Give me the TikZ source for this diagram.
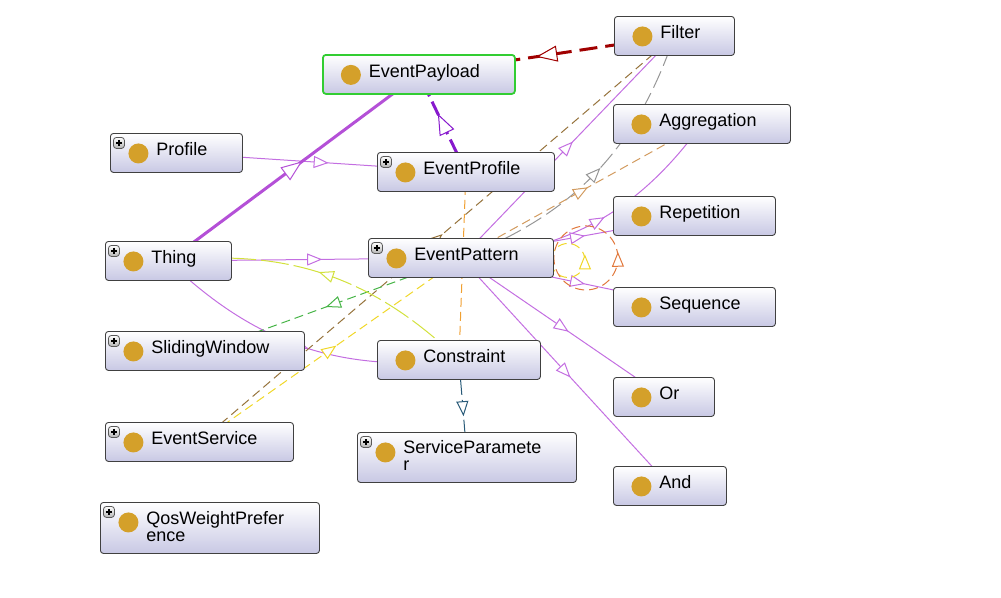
\documentclass[tikz,border=0pt]{standalone}
\usepackage{fontspec}
\setmainfont{Liberation Sans}
\usetikzlibrary{arrows.meta,decorations.markings,backgrounds}

\definecolor{lav}{RGB}{200,200,228}
\definecolor{dotc}{RGB}{212,160,42}
\definecolor{subc}{RGB}{195,110,225}
\definecolor{thickc}{RGB}{180,80,215}
\definecolor{redc}{RGB}{160,0,0}
\definecolor{purpc}{RGB}{135,25,205}
\definecolor{orangec}{RGB}{240,160,50}
\definecolor{brownc}{RGB}{150,115,60}
\definecolor{yellowc}{RGB}{240,215,40}
\definecolor{greenc}{RGB}{70,180,70}
\definecolor{grayc}{RGB}{150,150,150}
\definecolor{tanc}{RGB}{210,155,95}
\definecolor{limec}{RGB}{210,225,60}
\definecolor{tealc}{RGB}{40,90,120}
\definecolor{loopc}{RGB}{225,120,60}
\definecolor{greenbd}{RGB}{50,205,50}

\tikzset{
  tri/.tip={Triangle[length=15pt, width=12pt, fill=white, line width'=1pt]},
  bigtri/.tip={Triangle[length=21pt, width=16pt, fill=white, line width'=1pt]},
  mid/.style={postaction={decorate}, decoration={markings,
    mark=at position 0.5 with {\arrow[xshift=7.5pt]{tri}}}},
  bigmid/.style={postaction={decorate}, decoration={markings,
    mark=at position 0.5 with {\arrow[xshift=10.5pt]{bigtri}}}},
  loopmid/.style={postaction={decorate}, decoration={markings,
    mark=at position 0.001 with {\arrow[xshift=6pt]{tri}}}},
  cls/.style={draw=black!75, line width=0.9pt, rounded corners=3pt,
    top color=white, bottom color=lav, anchor=north west,
    minimum height=39pt, inner xsep=46pt, inner ysep=0pt, align=left,
    text height=12pt, text depth=6pt,
    font=\fontsize{18}{17}\selectfont,
    execute at begin node={\hyphenpenalty=10000\relax},
    path picture={
      \fill[dotc] ([shift={(28pt,-20pt)}]path picture bounding box.north west) circle (10pt);
    }},
  plus/.style={cls,
    path picture={
      \fill[dotc] ([shift={(28pt,-20pt)}]path picture bounding box.north west) circle (10pt);
      \draw[black!65, line width=0.8pt, top color=white, bottom color=black!30]
        ([shift={(3pt,-4pt)}]path picture bounding box.north west) rectangle ++(11pt,-11pt);
      \draw[black, line width=1.3pt]
        ([shift={(5.5pt,-9.5pt)}]path picture bounding box.north west) -- ++(6pt,0pt)
        ([shift={(8.5pt,-6.5pt)}]path picture bounding box.north west) -- ++(0pt,-6pt);
    }},
  sub/.style={color=subc, line width=1pt, mid},
  prop/.style={color=#1, line width=1pt, dash pattern=on 9pt off 5pt, mid},
}

\begin{document}
\begin{tikzpicture}[x=1pt, y=-1pt]
    \useasboundingbox (0, 0) rectangle (1001, 597);

    \node[cls, draw=greenbd, line width=1.8pt, text width=100pt] (payload) at (322, 54) {EventPayload};
    \node[cls, text width=28pt] (filter) at (614, 16) {Filter};
    \node[cls, text width=85pt] (aggregation) at (613, 104) {Aggregation};
    \node[plus, text width=40pt] (profile) at (110, 133) {Profile};
    \node[plus, text width=85pt] (eventprofile) at (377, 152) {EventProfile};
    \node[cls, text width=70pt] (repetition) at (613, 196) {Repetition};
    \node[plus, text width=34pt] (thing) at (105, 241) {Thing};
    \node[plus, text width=93pt] (pattern) at (368, 238) {EventPattern};
    \node[cls, text width=70pt] (sequence) at (613, 287) {Sequence};
    \node[plus, text width=107pt] (sliding) at (105, 331) {SlidingWindow};
    \node[cls, text width=71pt] (constraint) at (377, 340) {Constraint};
    \node[cls, text width=9pt] (or) at (613, 377) {Or};
    \node[plus, text width=96pt] (eventservice) at (105, 422) {EventService};
    \node[plus, text width=127pt, minimum height=50pt, text depth=20pt] (serviceparam) at (357, 432) {ServiceParamete\\r};
    \node[cls, text width=21pt] (and) at (613, 466) {And};
    \node[plus, text width=127pt, minimum height=51pt, text depth=18pt] (qos) at (100, 502) {QosWeightPrefer\\ence};

    \begin{pgfonlayer}{background}
    \draw[sub] (profile.center) -- (eventprofile.center);
    \draw[sub] (thing.center) -- (pattern.center);
    \draw[sub] (pattern.center) -- (filter.center);
    \draw[sub] (pattern.center) to[bend right=25] (aggregation.center);
    \draw[sub] (pattern.center) -- (repetition.center);
    \draw[sub] (pattern.center) -- (sequence.center);
    \draw[sub] (pattern.center) -- (or.center);
    \draw[sub] (pattern.center) -- (and.center);
    \draw[sub] (thing.center) to[bend right=25] (constraint.center);
    \draw[color=thickc, line width=3pt, bigmid] (thing.center) -- (payload.center);

    \draw[color=redc, line width=3pt, dash pattern=on 18pt off 8pt, bigmid] (filter.center) -- (payload.center);
    \draw[color=purpc, line width=3pt, dash pattern=on 15pt off 6pt, bigmid] (eventprofile.center) -- (payload.center);
    \draw[prop=orangec] (eventprofile.center) -- (constraint.center);
    \draw[prop=brownc] (eventservice.center) -- (filter.center);
    \draw[prop=yellowc] (eventservice.center) -- (pattern.center);
    \draw[prop=greenc] (pattern.center) -- (sliding.center);
    \draw[prop=grayc, dash pattern=on 18pt off 6pt] (pattern.center) to[bend right=25] (filter.center);
    \draw[prop=tanc] (pattern.center) -- (aggregation.center);
    \draw[prop=limec, dash pattern=on 28pt off 5pt] (constraint.center) to[bend right=25] (thing.center);
    \draw[prop=tealc, dash pattern=on 15pt off 5pt] (constraint.center) -- (serviceparam.center);

    \draw[color=yellowc, line width=1pt, dash pattern=on 9pt off 5pt, loopmid] ([shift={(14pt,-2.5pt)}]pattern.east) circle (17pt);
    \draw[color=loopc, line width=1pt, dash pattern=on 9pt off 5pt, loopmid] ([shift={(32pt,0pt)}]pattern.east) circle (32pt);
    \end{pgfonlayer}
\end{tikzpicture}
\end{document}
